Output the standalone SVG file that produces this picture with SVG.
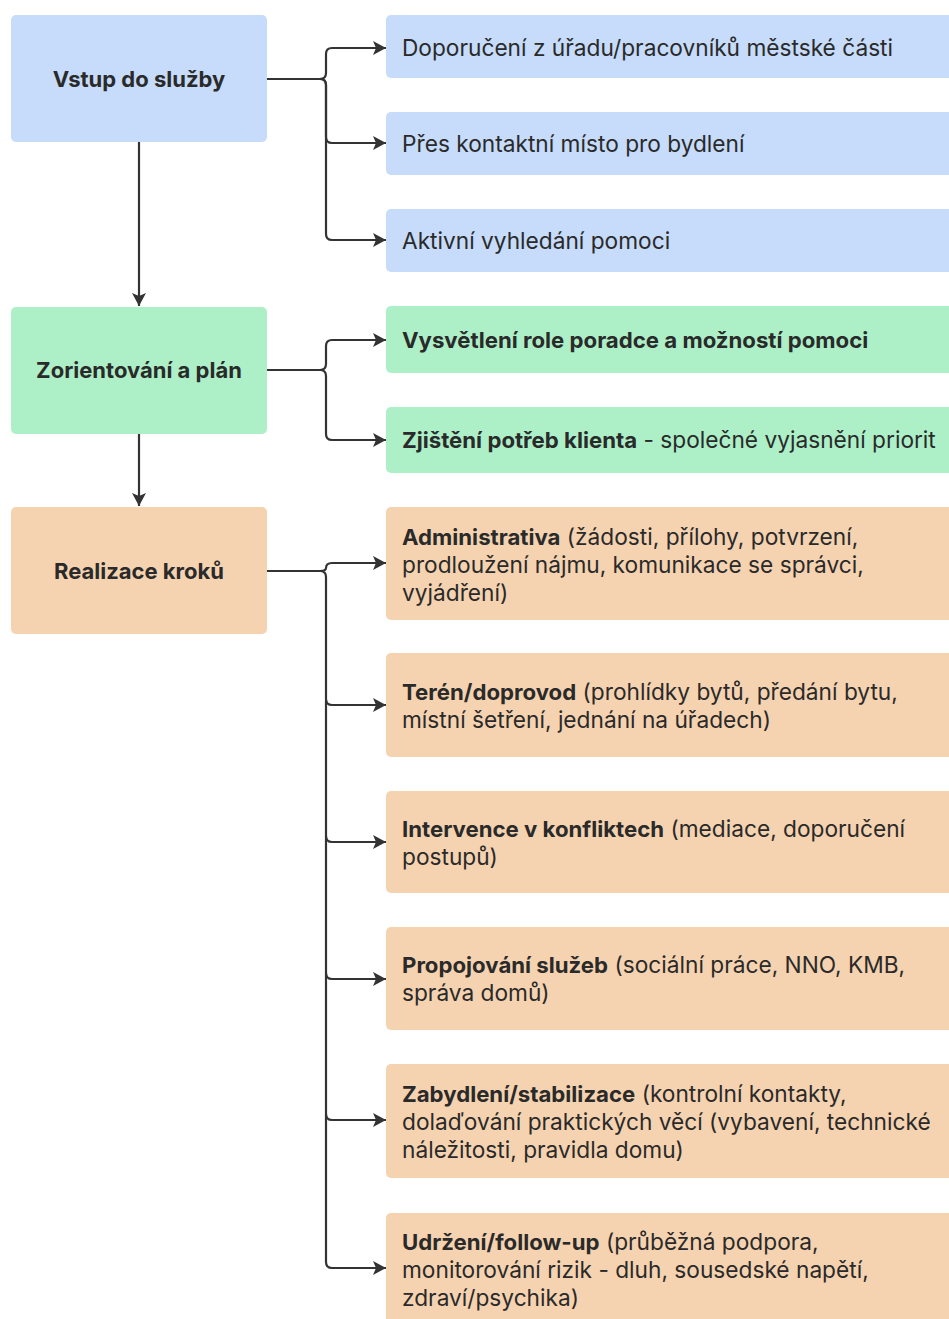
<svg xmlns="http://www.w3.org/2000/svg" width="949" height="1319" viewBox="0 0 949 1319">
<style>
text{font-family:Inter,"Noto Sans","Liberation Sans",sans-serif;fill:#2a2a2a;font-size:22.7px}
.t{font-weight:700;text-anchor:middle;font-size:22px}
.b{font-weight:700;font-size:22.2px}
.blue{fill:#c6dcfa}
.green{fill:#adf0c8}
.orange{fill:#f6d3b0}
.c{fill:none;stroke:#333;stroke-width:2.2}
</style>
<defs>
<marker id="ah" markerWidth="16" markerHeight="16" refX="14" refY="8" orient="auto" markerUnits="userSpaceOnUse">
<path d="M1,1 L14,8 L1,15 L4,8 z" fill="#333"/>
</marker>
</defs>
<rect width="949" height="1319" fill="#fff"/>
<g id="connectors">
<path class="c" marker-end="url(#ah)" d="M267,79 H320 Q326,79 326,73 V54 Q326,48 332,48 H386"/>
<path class="c" marker-end="url(#ah)" d="M267,79 H320 Q326,79 326,85 V137 Q326,143 332,143 H386"/>
<path class="c" marker-end="url(#ah)" d="M267,79 H320 Q326,79 326,85 V234 Q326,240 332,240 H386"/>
<path class="c" marker-end="url(#ah)" d="M139,142 V306"/>
<path class="c" marker-end="url(#ah)" d="M267,370 H320 Q326,370 326,364 V346 Q326,340 332,340 H386"/>
<path class="c" marker-end="url(#ah)" d="M267,370 H320 Q326,370 326,376 V434 Q326,440 332,440 H386"/>
<path class="c" marker-end="url(#ah)" d="M139,434 V506"/>
<path class="c" marker-end="url(#ah)" d="M267,571 H320 Q326,571 326,568 Q326,563 332,563 H386"/>
<path class="c" marker-end="url(#ah)" d="M267,571 H320 Q326,571 326,577 V699 Q326,705 332,705 H386"/>
<path class="c" marker-end="url(#ah)" d="M326,700 V836 Q326,842 332,842 H386"/>
<path class="c" marker-end="url(#ah)" d="M326,836 V973 Q326,979 332,979 H386"/>
<path class="c" marker-end="url(#ah)" d="M326,973 V1114 Q326,1120 332,1120 H386"/>
<path class="c" marker-end="url(#ah)" d="M326,1114 V1262 Q326,1268 332,1268 H386"/>
</g>
<g id="vstup"><rect class="blue" x="11" y="15" width="256" height="127" rx="5"/><text class="t" x="139" y="87">Vstup do služby</text></g>
<g id="doporuceni"><rect class="blue" x="386" y="15" width="580" height="63" rx="5"/><text x="402" y="56">Doporučení z úřadu/pracovníků městské části</text></g>
<g id="pres"><rect class="blue" x="386" y="112" width="580" height="63" rx="5"/><text x="402" y="152">Přes kontaktní místo pro bydlení</text></g>
<g id="aktivni"><rect class="blue" x="386" y="209" width="580" height="63" rx="5"/><text x="402" y="249">Aktivní vyhledání pomoci</text></g>
<g id="zorientovani"><rect class="green" x="11" y="307" width="256" height="127" rx="5"/><text class="t" x="139" y="378">Zorientování a plán</text></g>
<g id="vysvetleni"><rect class="green" x="386" y="306" width="580" height="67" rx="5"/><text class="b" x="402" y="348">Vysvětlení role poradce a možností pomoci</text></g>
<g id="zjisteni"><rect class="green" x="386" y="407" width="580" height="66" rx="5"/><text x="402" y="448"><tspan class="b">Zjištění potřeb klienta</tspan> - společné vyjasnění priorit</text></g>
<g id="realizace"><rect class="orange" x="11" y="507" width="256" height="127" rx="5"/><text class="t" x="139" y="579">Realizace kroků</text></g>
<g id="administrativa"><rect class="orange" x="386" y="507" width="580" height="113" rx="5"/><text x="402" y="545"><tspan class="b">Administrativa</tspan> (žádosti, přílohy, potvrzení,<tspan x="402" dy="28">prodloužení nájmu, komunikace se správci,</tspan><tspan x="402" dy="28">vyjádření)</tspan></text></g>
<g id="teren"><rect class="orange" x="386" y="653" width="580" height="104" rx="5"/><text x="402" y="700"><tspan class="b">Terén/doprovod</tspan> (prohlídky bytů, předání bytu,<tspan x="402" dy="28">místní šetření, jednání na úřadech)</tspan></text></g>
<g id="intervence"><rect class="orange" x="386" y="791" width="580" height="102" rx="5"/><text x="402" y="837"><tspan class="b">Intervence v konfliktech</tspan> (mediace, doporučení<tspan x="402" dy="28">postupů)</tspan></text></g>
<g id="propojovani"><rect class="orange" x="386" y="927" width="580" height="103" rx="5"/><text x="402" y="973"><tspan class="b">Propojování služeb</tspan> (sociální práce, NNO, KMB,<tspan x="402" dy="28">správa domů)</tspan></text></g>
<g id="zabydleni"><rect class="orange" x="386" y="1064" width="580" height="114" rx="5"/><text x="402" y="1102"><tspan class="b">Zabydlení/stabilizace</tspan> (kontrolní kontakty,<tspan x="402" dy="28">dolaďování praktických věcí (vybavení, technické</tspan><tspan x="402" dy="28">náležitosti, pravidla domu)</tspan></text></g>
<g id="udrzeni"><rect class="orange" x="386" y="1213" width="580" height="120" rx="5"/><text x="402" y="1250"><tspan class="b">Udržení/follow-up</tspan> (průběžná podpora,<tspan x="402" dy="28">monitorování rizik - dluh, sousedské napětí,</tspan><tspan x="402" dy="28">zdraví/psychika)</tspan></text></g>
</svg>
